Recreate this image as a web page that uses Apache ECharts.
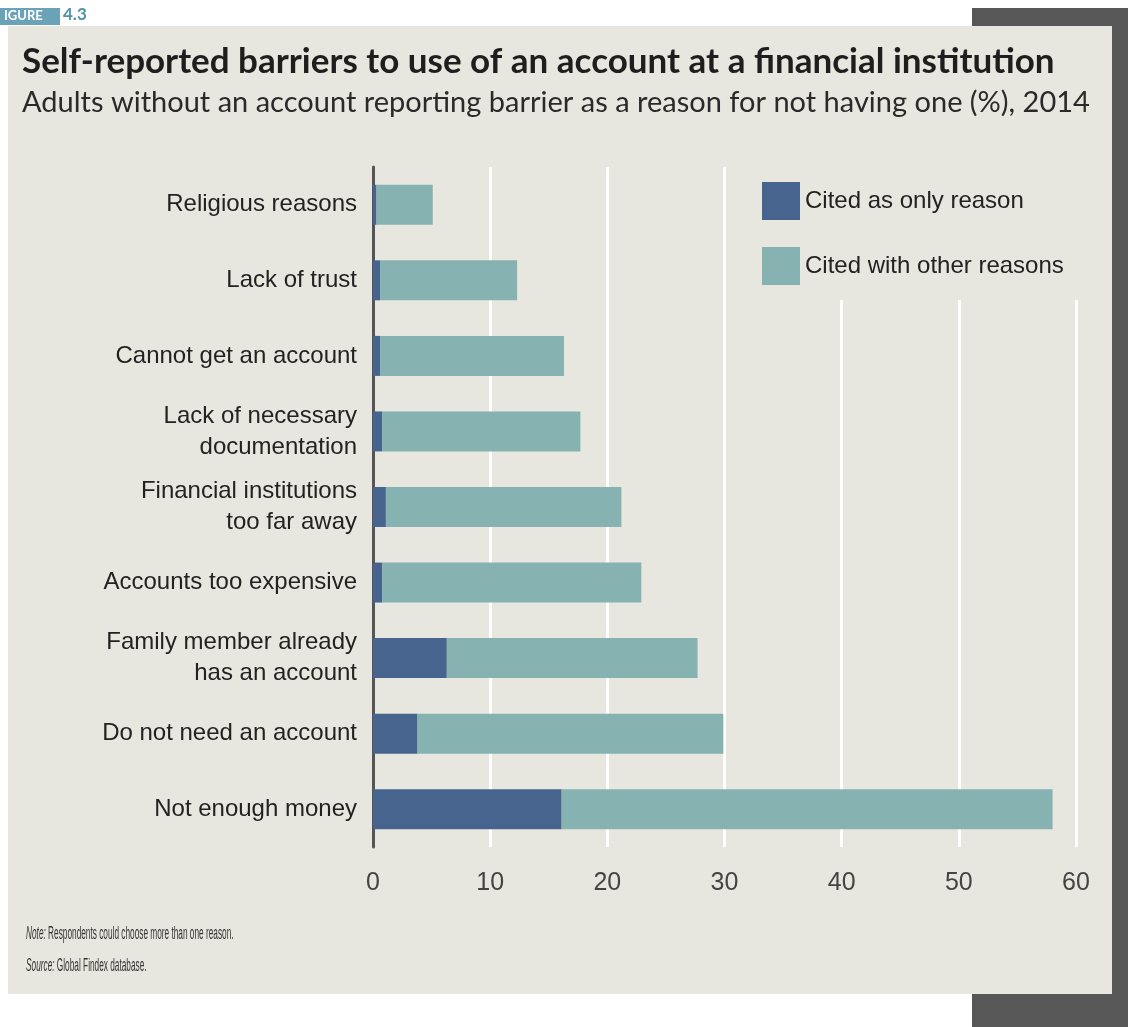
<!DOCTYPE html>
<html><head><meta charset="utf-8">
<script src="https://cdn.jsdelivr.net/npm/echarts@6/dist/echarts.min.js"></script>
<style>html,body{margin:0;padding:0;background:#fff;}#c{width:1128px;height:1027px;}</style>
</head><body><div id="c"></div>
<script>
const categories = ["Religious reasons","Lack of trust","Cannot get an account","Lack of necessary\ndocumentation","Financial institutions\ntoo far away","Accounts too expensive","Family member already\nhas an account","Do not need an account","Not enough money"];
const onlyReason = [0.3,0.6,0.6,0.8,1.1,0.8,6.3,3.8,16.1];
const totals = [5.1,12.3,16.3,17.7,21.2,22.9,27.7,29.9,58.0];
const withOther = totals.map((t,i)=>+(t-onlyReason[i]).toFixed(1));
const xTicks = [0,10,20,30,40,50,60];

const chart = echarts.init(document.getElementById('c'));
const panel = '#e8e7df';
const lab = '"Liberation Sans", Arial, sans-serif';
const noteRich = {
  i:{fontStyle:'italic',fontFamily:lab,fontSize:18,fill:'#333'},
  r:{fontFamily:lab,fontSize:18,fill:'#333'}
};
chart.setOption({
  animation:false,
  backgroundColor:'#ffffff',
  graphic:[
    {type:'rect',shape:{x:972,y:8,width:156,height:1019},style:{fill:'#575757'},z:-10},
    {type:'rect',shape:{x:8,y:26,width:1104,height:968},style:{fill:panel},z:-9},
    {type:'rect',shape:{x:0,y:8,width:60,height:17},style:{fill:'#6aa2b8'},z:-8},
    {type:'text',x:4,y:9,style:{text:'IGURE',fill:'#ffffff',font:'bold 13px Lato, sans-serif'},z:-7},
    {type:'text',x:63,y:6,style:{text:'4.3',fill:'#4f93ac',font:'bold 17px Lato, sans-serif'},z:-7},
    {type:'text',x:22,y:44,style:{text:'Self-reported barriers to use of an account at a financial institution',fill:'#1e1e1e',font:'bold 35px Lato, sans-serif'}},
    {type:'text',x:22,y:88,style:{text:'Adults without an account reporting barrier as a reason for not having one (%), 2014',fill:'#2a2a2a',font:'29px Lato, sans-serif'}},
    {type:'text',x:26,y:925,scaleX:0.46,style:{rich:noteRich,text:'{i|Note:}{r| Respondents could choose more than one reason.}'}},
    {type:'text',x:26,y:957,scaleX:0.46,style:{rich:noteRich,text:'{i|Source:}{r| Global Findex database.}'}}
  ],
  legend:{
    orient:'vertical',left:745,top:165,
    padding:[17,20,15,17],
    backgroundColor:panel,
    itemWidth:38,itemHeight:38,itemGap:27,
    icon:'rect',
    textStyle:{fontFamily:lab,fontSize:24,color:'#222',width:280,overflow:'none'},
    data:['Cited as only reason','Cited with other reasons']
  },
  grid:{left:373,right:52,top:167,bottom:180,containLabel:false},
  xAxis:{
    type:'value',min:0,max:60,interval:10,
    axisLine:{show:false},axisTick:{show:false},
    splitLine:{show:true,lineStyle:{color:'#ffffff',width:3}},
    axisLabel:{margin:24,color:'#444',fontSize:25,fontFamily:lab,
      formatter:v=>xTicks.includes(v)?String(v):''}
  },
  yAxis:{
    type:'category',data:categories,inverse:true,
    axisLine:{show:true,lineStyle:{color:'#555',width:3}},
    axisTick:{show:false},
    axisLabel:{margin:16,color:'#222',fontSize:24,lineHeight:31,align:'right',fontFamily:lab}
  },
  series:[
    {name:'Cited as only reason',type:'bar',stack:'a',data:onlyReason,barWidth:40,itemStyle:{color:'#46648e'},z:3},
    {name:'Cited with other reasons',type:'bar',stack:'a',data:withOther,barWidth:40,itemStyle:{color:'#86b2b2'},z:3}
  ]
});
</script></body></html>
